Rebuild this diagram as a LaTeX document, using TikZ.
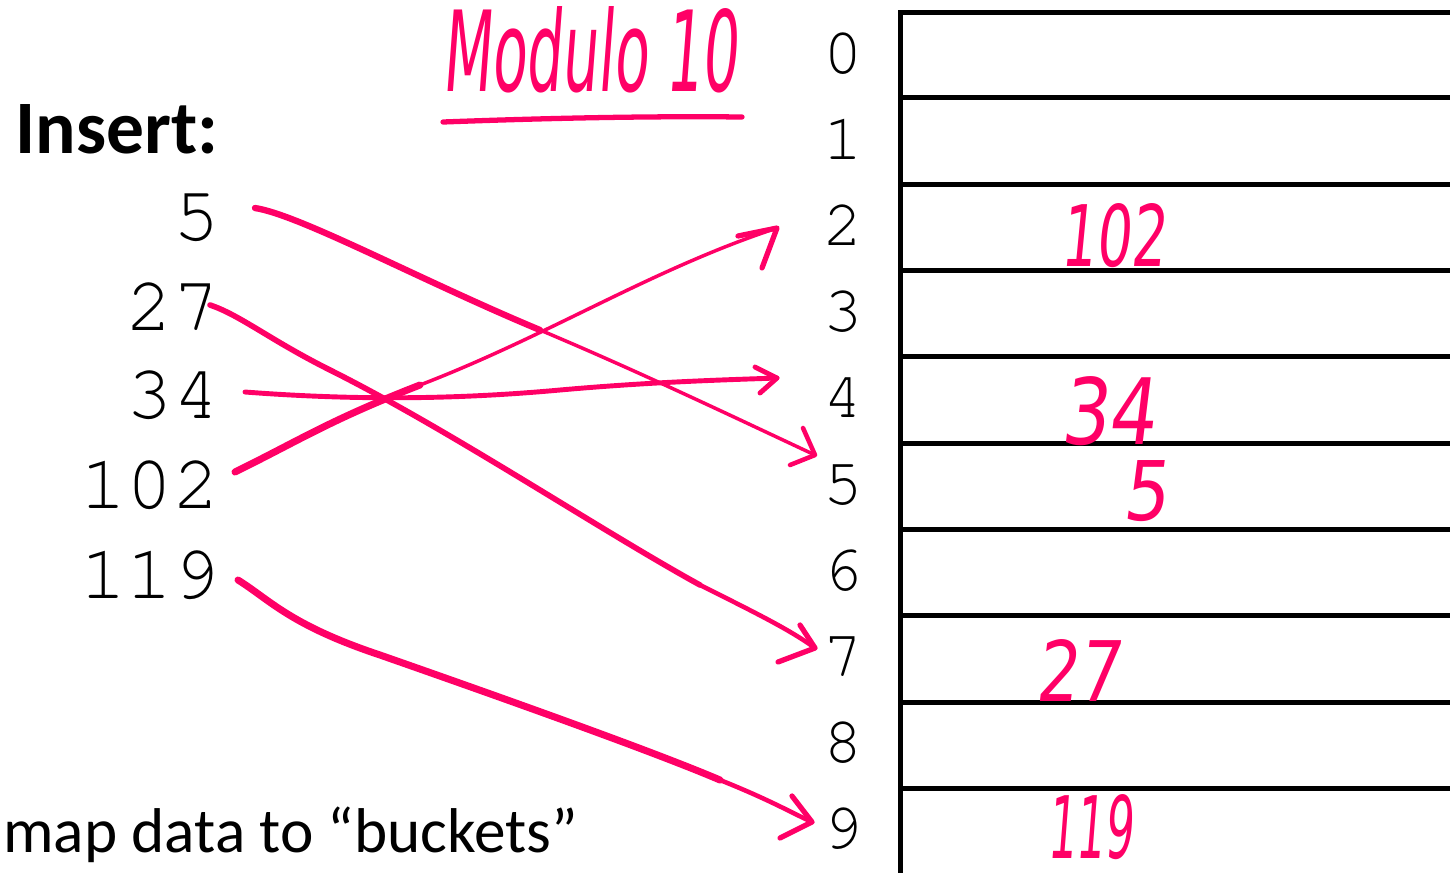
\documentclass[tikz,border=0pt]{standalone}
\usepackage{fontspec}
\usepackage{graphicx}
\setmainfont{Carlito}
\newfontfamily\monof{texgyrecursor-regular.otf}
\newfontfamily\hand[FakeSlant=0.15]{DejaVu Sans}
\definecolor{ink}{RGB}{255,0,102}
\tikzset{
  pix/.style={x=0.02cm,y=-0.02cm},
  leftnum/.style={anchor=base east,inner sep=0pt,font=\monof\fontsize{44}{44}\selectfont},
  idx/.style={anchor=base,inner sep=0pt,font=\monof\fontsize{37.5}{37.5}\selectfont},
  handnode/.style={anchor=south west,inner sep=0pt,text=ink},
  grid/.style={line width=2.85pt,black},
  pen/.style={ink,line cap=round,line join=round},
}
\begin{document}
\begin{tikzpicture}[pix]
\useasboundingbox (0,0) rectangle (1450,873);
% table
\draw[grid] (900,10) -- (900,873);
\foreach \yy in {12,97,184,270,356,443,529,615,702,788}
  \draw[grid] (898,\yy) -- (1450,\yy);
% indices
\foreach \k in {0,...,9}
  \node[idx] (i\k) at (843,{73+86.2*\k}) {\k};
% titles
\node[anchor=base west,inner sep=0pt,font=\bfseries\fontsize{43}{43}\selectfont] (insert) at (15,153) {Insert:};
\node[anchor=base west,inner sep=0pt,font=\fontsize{36}{36}\selectfont] (caption) at (3,852) {map data to “buckets”};
% left numbers
\node[leftnum] (n5) at (220,240) {5};
\node[leftnum] (n27) at (220,330) {27};
\node[leftnum] (n34) at (220,418) {34};
\node[leftnum] (n102) at (220,508) {102};
\node[leftnum] (n119) at (220,598) {119};
% handwriting
\node[handnode] (modulo) at (442,93) {\resizebox{5.9cm}{1.7cm}{\hand Modulo 10}};
\draw[pen,line width=3pt] (443,122) .. controls (550,118) and (650,116) .. (742,117);
\node[handnode] (h102) at (1060,268) {\resizebox{2.1cm}{1.26cm}{\hand 102}};
\node[handnode] (h34) at (1060,446) {\resizebox{1.9cm}{1.36cm}{\hand 34}};
\node[handnode] (h5) at (1122,522) {\resizebox{0.9cm}{1.2cm}{\hand 5}};
\node[handnode] (h27) at (1035,702) {\resizebox{1.7cm}{1.24cm}{\hand 27}};
\node[handnode] (h119) at (1047,860) {\resizebox{1.7cm}{1.28cm}{\hand 119}};
% connector end points
\coordinate (s5) at (255,208);   \coordinate (t5) at (815,455);
\coordinate (s27) at (210,305);  \coordinate (t27) at (815,648);
\coordinate (s34) at (245,392);  \coordinate (t34) at (777,378);
\coordinate (s102) at (235,472); \coordinate (t102) at (777,228);
\coordinate (s119) at (238,580); \coordinate (t119) at (812,822);
% 5 -> 5
\draw[pen,line width=3.6pt] (s5) .. controls (300,215) and (420,280) .. (540,330);
\draw[pen,line width=2pt] (540,330) .. controls (640,372) and (740,420) .. (t5);
\draw[pen,line width=2.6pt] (803,428) -- (t5) -- (790,465);
% 27 -> 7
\draw[pen,line width=3.2pt] (s27) .. controls (240,315) and (270,340) .. (330,370)
   .. controls (450,430) and (600,530) .. (700,585);
\draw[pen,line width=2.6pt] (700,585) .. controls (760,615) and (790,630) .. (t27);
\draw[pen,line width=3pt] (800,625) -- (t27) -- (778,662);
% 34 -> 4
\draw[pen,line width=2.8pt] (s34) .. controls (350,400) and (450,400) .. (560,390)
   .. controls (650,382) and (720,380) .. (t34);
\draw[pen,line width=2.8pt] (755,367) -- (t34) -- (760,393);
% 102 -> 2
\draw[pen,line width=4pt] (s102) .. controls (300,440) and (330,420) .. (420,385);
\draw[pen,line width=2pt] (420,385) .. controls (550,335) and (650,270) .. (t102);
\draw[pen,line width=3pt] (738,236) -- (t102) -- (762,268);
% 119 -> 9
\draw[pen,line width=4pt] (s119) .. controls (270,600) and (290,625) .. (380,655)
   .. controls (480,690) and (650,750) .. (720,780);
\draw[pen,line width=2.6pt] (720,780) .. controls (770,800) and (790,812) .. (t119);
\draw[pen,line width=3pt] (792,796) -- (t119) -- (780,838);
\end{tikzpicture}
\end{document}
